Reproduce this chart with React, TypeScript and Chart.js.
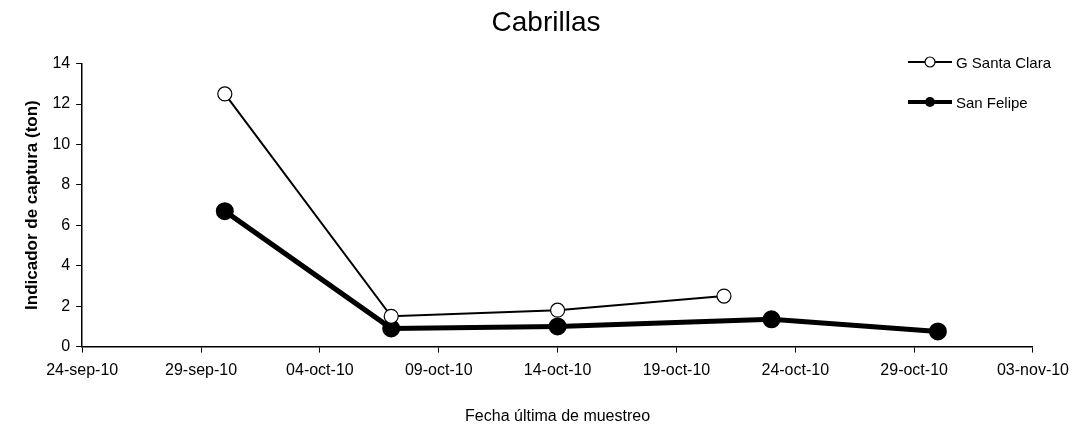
import { useEffect, useRef } from "react";
import { Chart, registerables } from "chart.js";

Chart.register(...registerables);

const START = "2010-09-24";
const TICK_LABELS = ["24-sep-10", "29-sep-10", "04-oct-10", "09-oct-10", "14-oct-10", "19-oct-10", "24-oct-10", "29-oct-10", "03-nov-10"];

const santaClaraDates = ["2010-09-30", "2010-10-07", "2010-10-14", "2010-10-21"];
const santaClaraValues = [12.5, 1.5, 1.8, 2.5];

const sanFelipeDates = ["2010-09-30", "2010-10-07", "2010-10-14", "2010-10-23", "2010-10-30"];
const sanFelipeValues = [6.7, 0.9, 1.0, 1.35, 0.75];

const FONT = "'Liberation Sans', Arial, sans-serif";

function dayOffset(d: string) {
  return Math.round((Date.parse(d) - Date.parse(START)) / 86400000);
}

function toPoints(dates: string[], values: number[]) {
  return dates.map((d, i) => ({ x: dayOffset(d), y: values[i] }));
}

export default function App() {
  const canvasRef = useRef<HTMLCanvasElement>(null);

  useEffect(() => {
    if (!canvasRef.current) return;
    const chart = new Chart(canvasRef.current, {
      type: "line",
      data: {
        datasets: [
          {
            label: "G Santa Clara",
            data: toPoints(santaClaraDates, santaClaraValues),
            borderColor: "#000",
            borderWidth: 2,
            pointRadius: 7,
            pointBackgroundColor: "#fff",
            pointBorderColor: "#000",
            pointBorderWidth: 1.2,
          },
          {
            label: "San Felipe",
            data: toPoints(sanFelipeDates, sanFelipeValues),
            borderColor: "#000",
            borderWidth: 5,
            pointRadius: 6.5,
            pointBackgroundColor: "#000",
            pointBorderColor: "#000",
          },
        ],
      },
      options: {
        animation: false,
        responsive: false,
        layout: { padding: { left: 18, right: 3, top: 0, bottom: 6 } },
        plugins: {
          legend: { display: false },
          tooltip: { enabled: false },
          title: {
            display: true,
            text: "Cabrillas",
            color: "#000",
            font: { family: FONT, size: 28, weight: "normal" },
            padding: { top: 6, bottom: 24 },
          },
        },
        scales: {
          x: {
            type: "linear",
            min: 0,
            max: 40,
            ticks: {
              stepSize: 5,
              color: "#000",
              font: { family: FONT, size: 16 },
              padding: 8,
              maxRotation: 0,
              callback: (v) => TICK_LABELS[Number(v) / 5] ?? "",
            },
            grid: { drawOnChartArea: false, color: "#000", tickLength: 6 },
            border: { color: "#000", width: 1.5 },
            title: {
              display: true,
              text: "Fecha última de muestreo",
              color: "#000",
              font: { family: FONT, size: 16 },
              padding: { top: 19 },
            },
          },
          y: {
            min: 0,
            max: 14,
            ticks: { stepSize: 2, color: "#000", font: { family: FONT, size: 16 }, padding: 6 },
            grid: { drawOnChartArea: false, color: "#000", tickLength: 6 },
            border: { color: "#000", width: 1.5 },
            title: {
              display: true,
              text: "Indicador de captura (ton)",
              color: "#000",
              font: { family: FONT, size: 17, weight: "bold" },
            },
          },
        },
      },
    });
    return () => chart.destroy();
  }, []);

  return (
    <div style={{ position: "absolute", left: 0, top: 0, width: 1077, height: 436, background: "#fff" }}>
      <canvas ref={canvasRef} width={1077} height={436} />
      <div style={{ position: "absolute", left: 908, top: 50, fontFamily: FONT, fontSize: 15, color: "#000" }}>
        <div style={{ display: "flex", alignItems: "center", height: 24 }}>
          <svg width={44} height={16}>
            <line x1={0} y1={8} x2={44} y2={8} stroke="#000" strokeWidth={2} />
            <circle cx={22} cy={8} r={5} fill="#fff" stroke="#000" strokeWidth={1.2} />
          </svg>
          <span style={{ marginLeft: 4 }}>G Santa Clara</span>
        </div>
        <div style={{ display: "flex", alignItems: "center", height: 24, marginTop: 16 }}>
          <svg width={44} height={16}>
            <line x1={0} y1={8} x2={44} y2={8} stroke="#000" strokeWidth={4} />
            <circle cx={22} cy={8} r={5} fill="#000" />
          </svg>
          <span style={{ marginLeft: 4 }}>San Felipe</span>
        </div>
      </div>
    </div>
  );
}
